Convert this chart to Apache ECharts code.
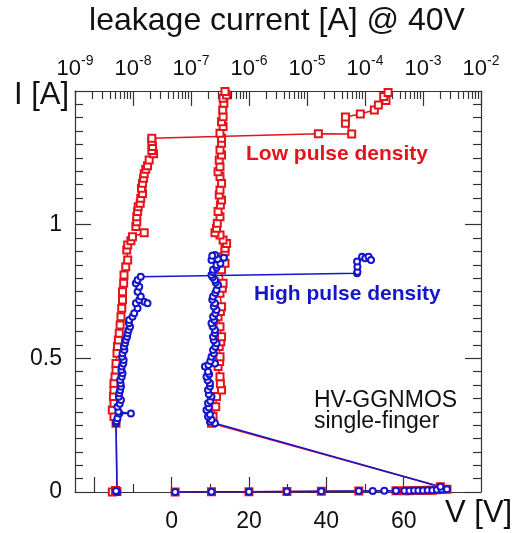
<!DOCTYPE html>
<html>
<head>
<meta charset="utf-8">
<script src="https://cdn.jsdelivr.net/npm/echarts@6/dist/echarts.min.js"></script>
<style>html,body{margin:0;padding:0;background:#fff}#c{width:516px;height:533px}</style>
</head>
<body>
<div id="c"></div>
<script>
// ---------------- data ----------------
// Low pulse density (red): TLP I-V (bottom axis V)
const redIV_V = [0.9, 10.3, 20.0, 29.8, 38.7, 48.4, 58.0, 60.2, 61.5, 62.7, 63.8, 65.0, 66.2, 67.4, 68.6, 69.8, 71.2, 69.5,
  10.3, 10.7, 11.4, 11.6, 12.9, 12.6, 12.5, 12.0, 12.4, 12.5, 12.3, 12.7, 12.9, 12.5, 12.0, 12.6, 12.9, 12.5, 13.1, 13.3, 12.9, 13.8, 13.3, 13.8,
  13.8, 14.2, 13.3, 12.5, 11.2, 11.6, 11.8, 12.5, 12.0, 12.6, 12.9, 12.3, 12.5, 12.9, 12.5, 12.0, 12.5, 12.3, 12.9, 12.5, 12.9, 12.9, 12.5,
  13.3, 12.9, 13.3, 13.2, 13.5, 13.3, 14.2, 13.8];
const redIV_I = [0.000, 0.001, 0.001, 0.002, 0.003, 0.004, 0.005, 0.005, 0.005, 0.006, 0.006, 0.006, 0.007, 0.007, 0.008, 0.009, 0.010, 0.020,
  0.257, 0.282, 0.319, 0.357, 0.382, 0.405, 0.431, 0.469, 0.488, 0.506, 0.544, 0.562, 0.581, 0.618, 0.656, 0.675, 0.693, 0.743, 0.762, 0.781, 0.831, 0.856, 0.880, 0.899,
  0.912, 0.930, 0.943, 0.961, 0.970, 0.987, 1.005, 1.030, 1.049, 1.074, 1.092, 1.111, 1.130, 1.155, 1.180, 1.198, 1.217, 1.242, 1.261, 1.279, 1.305, 1.323, 1.342,
  1.367, 1.385, 1.404, 1.429, 1.454, 1.473, 1.485, 1.498];
// Low pulse density (red): leakage (top axis, A) vs pulse current
const redLeak_A = [4.4e-9, 5.3e-9, 5.0e-9,
  5.1e-9, 4.7e-9, 4.4e-9, 4.7e-9, 4.6e-9, 4.7e-9, 4.7e-9, 4.9e-9, 5.1e-9, 5.1e-9, 5.3e-9, 5.4e-9, 5.6e-9, 5.8e-9, 6.0e-9, 6.2e-9, 6.4e-9, 6.6e-9, 6.6e-9, 6.9e-9, 7.0e-9, 7.5e-9, 8.1e-9, 7.8e-9, 8.1e-9, 9.2e-9, 9.8e-9, 1.56e-8,
  1.12e-8, 1.16e-8, 1.16e-8, 1.2e-8, 1.23e-8, 1.33e-8, 1.36e-8, 1.46e-8, 1.4e-8, 1.46e-8, 1.52e-8, 1.56e-8, 1.66e-8, 1.78e-8, 1.9e-8, 2.26e-8, 2.11e-8, 2.17e-8, 2.11e-8, 2.11e-8,
  1.57e-5, 5.9e-5, 4.6e-5, 4.6e-5, 8.3e-5, 1.45e-4, 1.7e-4, 2.3e-4, 2.1e-4, 2.5e-4];
const redLeak_I = [0.000, 0.002, 0.006,
  0.257, 0.282, 0.307, 0.332, 0.357, 0.382, 0.407, 0.431, 0.456, 0.481, 0.519, 0.544, 0.569, 0.594, 0.625, 0.656, 0.687, 0.718, 0.749, 0.781, 0.812, 0.843, 0.868, 0.905, 0.924, 0.940, 0.955, 0.970,
  0.993, 1.011, 1.030, 1.049, 1.067, 1.080, 1.099, 1.117, 1.136, 1.155, 1.174, 1.190, 1.207, 1.220, 1.242, 1.265, 1.277, 1.292, 1.311, 1.323,
  1.340, 1.339, 1.379, 1.403, 1.414, 1.429, 1.448, 1.464, 1.479, 1.494];

// High pulse density (blue): TLP I-V
const blueIV_V = [0.9, 10.3, 20.0, 29.8, 38.7, 48.4, 52.0, 55.0, 58.0, 60.2, 61.5, 62.7, 63.8, 65.0, 66.2, 67.4, 68.6, 69.8, 71.2, 69.5,
  11.2, 9.9, 10.3, 9.4, 9.9, 9.0, 9.6, 9.4, 10.0, 10.3, 9.6, 9.4, 9.9, 9.9, 9.3, 9.0, 9.7, 9.4, 8.6, 9.5, 11.2, 10.0, 10.3, 10.9, 10.7, 11.3, 11.6, 10.9,
  10.7, 11.2, 11.2, 10.6, 10.3, 11.0, 10.7, 11.3, 11.6, 10.9, 11.2, 10.5, 10.7, 11.3, 11.6, 12.0, 11.4, 11.2, 10.6, 10.3, 10.7, 10.7, 11.6, 11.6, 12.6,
  10.3, 11.9, 13.5, 11.2, 10.5];
const blueIV_I = [0.000, 0.001, 0.001, 0.002, 0.003, 0.004, 0.004, 0.005, 0.005, 0.005, 0.005, 0.006, 0.006, 0.006, 0.007, 0.007, 0.008, 0.009, 0.010, 0.020,
  0.257, 0.263, 0.270, 0.282, 0.290, 0.307, 0.316, 0.332, 0.340, 0.357, 0.366, 0.382, 0.395, 0.407, 0.418, 0.431, 0.440, 0.450, 0.469, 0.475, 0.481, 0.490, 0.506, 0.518, 0.531, 0.543, 0.556, 0.568,
  0.581, 0.594, 0.606, 0.619, 0.631, 0.643, 0.656, 0.668, 0.681, 0.694, 0.706, 0.719, 0.731, 0.744, 0.756, 0.774, 0.784, 0.793, 0.803, 0.812, 0.822, 0.831, 0.840, 0.849, 0.855,
  0.868, 0.872, 0.876, 0.887, 0.884];
// High pulse density (blue): leakage
const blueLeak_A = [5.3e-9, 5.1e-9,
  5.1e-9, 5.2e-9, 5.4e-9, 5.8e-9, 9.2e-9, 5.6e-9, 5.4e-9, 5.9e-9, 6.2e-9, 5.7e-9, 5.8e-9, 6.0e-9, 6.2e-9, 6.1e-9, 6.0e-9, 6.4e-9, 6.6e-9, 6.3e-9, 6.4e-9, 6.8e-9, 6.9e-9, 6.5e-9,
  6.6e-9, 7.1e-9, 7.0e-9, 7.3e-9, 7.5e-9, 7.9e-9, 8.1e-9, 8.4e-9, 8.9e-9, 8.5e-9, 8.6e-9, 9.8e-9, 1.05e-8, 1.2e-8, 1.12e-8, 1.56e-8, 1.78e-8, 1.28e-8, 1.36e-8, 1.2e-8, 1.28e-8,
  1.12e-8, 1.2e-8, 1.36e-8,
  7.3e-5, 7.4e-5, 7.4e-5, 7.3e-5, 8.9e-5, 1.01e-4, 1.15e-4, 1.27e-4];
const blueLeak_I = [0.000, 0.004,
  0.257, 0.265, 0.276, 0.294, 0.294, 0.300, 0.319, 0.330, 0.344, 0.356, 0.369, 0.381, 0.394, 0.406, 0.419, 0.431, 0.444, 0.456, 0.469, 0.481, 0.494, 0.506,
  0.519, 0.531, 0.544, 0.556, 0.569, 0.581, 0.594, 0.606, 0.618, 0.631, 0.643, 0.656, 0.669, 0.687, 0.706, 0.712, 0.706, 0.718, 0.731, 0.749, 0.768,
  0.781, 0.793, 0.805,
  0.818, 0.824, 0.843, 0.862, 0.880, 0.874, 0.880, 0.868];

// axis ticks / labels
const vMajorTicks = [-20, 0, 20, 40, 60];
const vMinorTicks = [-10, 10, 30, 50, 70];
const vLabels = [0, 20, 40, 60];
const leakDecades = [1e-9, 1e-8, 1e-7, 1e-6, 1e-5, 1e-4, 1e-3, 1e-2];
const leakMinorMult = [2, 3, 4, 5, 6, 7, 8, 9];

// ---------------- chart ----------------
const RED = '#e3141b', BLUE = '#1515cc', AX = '#333';
const FONT = '"Liberation Sans", Arial, Helvetica, sans-serif';
const zip = (a, b) => a.map((v, i) => [v, b[i]]);
const leakMinorTicks = [];
leakDecades.slice(0, -1).forEach(d => leakMinorMult.forEach(m => leakMinorTicks.push(+(d * m).toPrecision(3))));

const chart = echarts.init(document.getElementById('c'), null, {renderer: 'canvas'});
const axLine = {show: true, onZero: false, lineStyle: {color: AX, width: 1.2}};
const noLine = {show: false, onZero: false};

chart.setOption({
  animation: false,
  backgroundColor: '#fff',
  textStyle: {fontFamily: FONT},
  grid: {left: 75, right: 35, top: 91, bottom: 41, containLabel: false, outerBoundsMode: 'none'},
  xAxis: [
    {type: 'value', position: 'bottom', min: -25, max: 80,
     axisLine: axLine, splitLine: {show: false},
     axisTick: {inside: true, length: 15, customValues: vMajorTicks, lineStyle: {color: AX, width: 1.2}},
     axisLabel: {customValues: vLabels, fontSize: 23, color: '#111', margin: 18, fontFamily: FONT}},
    {type: 'value', position: 'bottom', min: -25, max: 80,
     axisLine: noLine, splitLine: {show: false},
     axisTick: {inside: true, length: 8, customValues: vMinorTicks, lineStyle: {color: AX, width: 1.2}},
     axisLabel: {show: false}},
    {type: 'log', logBase: 10, position: 'top', min: 1e-9, max: 1e-2,
     axisLine: axLine, splitLine: {show: false},
     axisTick: {inside: true, length: 15, customValues: leakDecades, lineStyle: {color: AX, width: 1.2}},
     axisLabel: {customValues: leakDecades, margin: 11, color: '#111',
       formatter: v => '{b|10}{s|' + Math.round(Math.log10(v)) + '}',
       rich: {b: {fontSize: 22, lineHeight: 26, verticalAlign: 'bottom', fontFamily: FONT, color: '#111'},
              s: {fontSize: 14, lineHeight: 14, verticalAlign: 'top', fontFamily: FONT, color: '#111'}}}},
    {type: 'log', logBase: 10, position: 'top', min: 1e-9, max: 1e-2,
     axisLine: noLine, splitLine: {show: false},
     axisTick: {inside: true, length: 8, customValues: leakMinorTicks, lineStyle: {color: AX, width: 1.2}},
     axisLabel: {show: false}}
  ],
  yAxis: [
    {type: 'value', position: 'left', min: 0, max: 1.5, interval: 0.5,
     axisLine: axLine, splitLine: {show: false},
     axisTick: {inside: true, length: 16, lineStyle: {color: AX, width: 1.2}},
     minorTick: {show: true, splitNumber: 10, length: 8, lineStyle: {color: AX, width: 1.2}},
     axisLabel: {fontSize: 23, color: '#111', margin: 13, fontFamily: FONT,
       formatter: v => (v > 1.4 ? '' : String(v))}},
    {type: 'value', position: 'right', min: 0, max: 1.5, interval: 0.5,
     axisLine: axLine, splitLine: {show: false},
     axisTick: {inside: true, length: 16, lineStyle: {color: AX, width: 1.2}},
     minorTick: {show: true, splitNumber: 10, length: 8, lineStyle: {color: AX, width: 1.2}},
     axisLabel: {show: false}}
  ],
  series: [
    {name: 'low IV', type: 'line', xAxisIndex: 0, yAxisIndex: 0, data: zip(redIV_V, redIV_I),
     symbol: 'emptyRect', symbolSize: 7, clip: false, silent: true,
     lineStyle: {color: RED, width: 1.5}, itemStyle: {color: RED, borderColor: RED, borderWidth: 1.1}},
    {name: 'low leak', type: 'line', xAxisIndex: 2, yAxisIndex: 0, data: zip(redLeak_A, redLeak_I),
     symbol: 'emptyRect', symbolSize: 7, clip: false, silent: true,
     lineStyle: {color: RED, width: 1.5}, itemStyle: {color: RED, borderColor: RED, borderWidth: 1.1}},
    {name: 'high IV', type: 'line', xAxisIndex: 0, yAxisIndex: 0, data: zip(blueIV_V, blueIV_I),
     symbol: 'emptyCircle', symbolSize: 6, clip: false, silent: true,
     lineStyle: {color: BLUE, width: 1.5}, itemStyle: {color: BLUE, borderColor: BLUE, borderWidth: 1.1}},
    {name: 'high leak', type: 'line', xAxisIndex: 2, yAxisIndex: 0, data: zip(blueLeak_A, blueLeak_I),
     symbol: 'emptyCircle', symbolSize: 6, clip: false, silent: true,
     lineStyle: {color: BLUE, width: 1.5}, itemStyle: {color: BLUE, borderColor: BLUE, borderWidth: 1.1}}
  ],
  graphic: [
    {type: 'text', x: 277, y: 21, style: {text: 'leakage current [A] @ 40V', font: '32px ' + FONT, fill: '#111', align: 'center', verticalAlign: 'middle'}},
    {type: 'text', x: 14, y: 95, style: {text: 'I [A]', font: '31px ' + FONT, fill: '#111', align: 'left', verticalAlign: 'middle'}},
    {type: 'text', x: 445, y: 513, style: {text: 'V [V]', font: '31px ' + FONT, fill: '#111', align: 'left', verticalAlign: 'middle'}},
    {type: 'text', x: 246, y: 154.5, style: {text: 'Low pulse density', font: 'bold 21px ' + FONT, fill: RED, align: 'left', verticalAlign: 'middle'}},
    {type: 'text', x: 254, y: 294.5, style: {text: 'High pulse density', font: 'bold 21px ' + FONT, fill: BLUE, align: 'left', verticalAlign: 'middle'}},
    {type: 'text', x: 314, y: 400.5, style: {text: 'HV-GGNMOS', font: '23px ' + FONT, fill: '#111', align: 'left', verticalAlign: 'middle'}},
    {type: 'text', x: 314, y: 422, style: {text: 'single-finger', font: '23px ' + FONT, fill: '#111', align: 'left', verticalAlign: 'middle'}}
  ]
});
</script>
</body>
</html>
